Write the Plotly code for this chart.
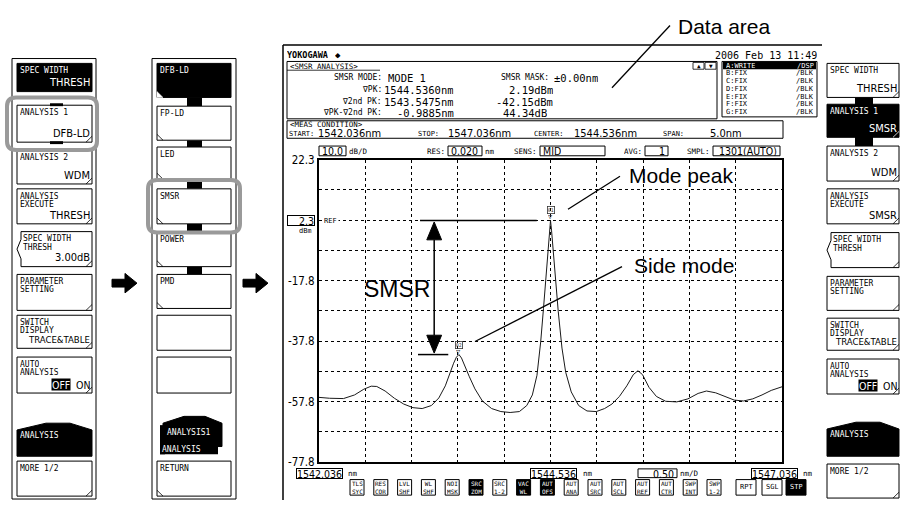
import plotly.graph_objects as go

# ---------------- data ----------------
wavelength_nm = [1542.036, 1542.15, 1542.30, 1542.42, 1542.52, 1542.60, 1542.66, 1542.75,
                 1542.85, 1542.95, 1543.05, 1543.15, 1543.25, 1543.33, 1543.40, 1543.45,
                 1543.49, 1543.52, 1543.5475, 1543.575, 1543.61, 1543.66, 1543.72, 1543.80,
                 1543.90, 1544.00, 1544.10, 1544.20, 1544.28, 1544.34, 1544.39, 1544.43,
                 1544.46, 1544.49, 1544.51, 1544.525, 1544.536, 1544.547, 1544.565, 1544.59,
                 1544.62, 1544.66, 1544.70, 1544.76, 1544.84, 1544.93, 1545.03, 1545.12,
                 1545.20, 1545.28, 1545.36, 1545.43, 1545.48, 1545.53, 1545.60, 1545.68,
                 1545.78, 1545.90, 1546.02, 1546.13, 1546.22, 1546.32, 1546.42, 1546.52,
                 1546.62, 1546.72, 1546.82, 1546.92, 1547.036]
level_dbm = [-56.3, -56.6, -56.7, -55.5, -53.6, -52.6, -52.7, -54.2,
             -56.6, -58.5, -59.7, -60.0, -59.0, -56.5, -52.5, -48.0,
             -45.0, -43.0, -42.15, -43.3, -46.0, -49.5, -53.5, -57.5,
             -60.0, -61.0, -61.3, -61.0, -59.0, -55.5, -49.0, -38.0,
             -27.0, -15.0, -6.0, -1.0, 2.19, -1.0, -8.0, -18.0,
             -28.0, -40.0, -48.0, -54.5, -59.0, -60.8, -61.0, -60.0,
             -58.5, -56.0, -52.5, -48.8, -47.5, -48.8, -53.0, -56.0,
             -57.6, -57.8, -56.8, -55.0, -54.2, -54.8, -56.0, -57.2,
             -57.5, -56.8, -55.5, -54.0, -52.8]

peak_wl, peak_dbm = 1544.5360, 2.19
side_wl, side_dbm = 1543.5475, -42.15
delta_wl, smsr_db = -0.9885, 44.34

x_start, x_center, x_stop = 1542.036, 1544.536, 1547.036
x_per_div = 0.50
y_top, db_per_div, ref_level = 22.3, 10.0, 2.3
y_tick_vals = [22.3, -17.7, -37.7, -57.7, -77.7]
y_tick_text = ["22.3", "-17.8", "-37.8", "-57.8", "-77.8"]

trace_rows = ["A:WRITE", "B:FIX", "C:FIX", "D:FIX", "E:FIX", "F:FIX", "G:FIX"]
trace_modes = ["/DSP", "/BLK", "/BLK", "/BLK", "/BLK", "/BLK", "/BLK"]

bottom_keys = ["TLS<br>SYC", "RES<br>COR", "LVL<br>SHF", "WL<br>SHF", "NOI<br>MSK", "SRC<br>ZOM",
               "SRC<br>1-2", "VAC<br>WL", "AUT<br>OFS", "AUT<br>ANA", "AUT<br>SRC", "AUT<br>SCL",
               "AUT<br>REF", "AUT<br>CTR", "SWP<br>INT", "SWP<br>1-2"]
bottom_active = [5, 7, 8]

# ---------------- helpers (pixel -> paper) ----------------
W, H = 901, 507
MONO = "DejaVu Sans Mono"
NARROW = "Liberation Sans Narrow, DejaVu Sans Condensed, DejaVu Sans Mono"
SANS = "Liberation Sans, Arial, sans-serif"


def px(x):
    return x / W


def py(y):
    return 1 - y / H


shapes, annots = [], []


def rect(x0, y0, x1, y1, fill="white", lc="black", lw=1):
    shapes.append(dict(type="rect", xref="paper", yref="paper", x0=px(x0), x1=px(x1),
                       y0=py(y1), y1=py(y0), fillcolor=fill, line=dict(color=lc, width=lw),
                       layer="above"))


def seg(x0, y0, x1, y1, lc="black", lw=1):
    shapes.append(dict(type="line", xref="paper", yref="paper", x0=px(x0), y0=py(y0),
                       x1=px(x1), y1=py(y1), line=dict(color=lc, width=lw), layer="above"))


def poly(pts, fill="black", lc="black", lw=1):
    d = "M " + " L ".join(f"{px(x):.5f},{py(y):.5f}" for x, y in pts) + " Z"
    shapes.append(dict(type="path", xref="paper", yref="paper", path=d, fillcolor=fill,
                       line=dict(color=lc, width=lw), layer="above"))


def rrect(x0, y0, x1, y1, r, lc="#9a9a9a", lw=4):
    def p(x, y):
        return f"{px(x):.5f},{py(y):.5f}"
    d = (f"M {p(x0 + r, y0)} L {p(x1 - r, y0)} Q {p(x1, y0)} {p(x1, y0 + r)} "
         f"L {p(x1, y1 - r)} Q {p(x1, y1)} {p(x1 - r, y1)} L {p(x0 + r, y1)} "
         f"Q {p(x0, y1)} {p(x0, y1 - r)} L {p(x0, y0 + r)} Q {p(x0, y0)} {p(x0 + r, y0)} Z")
    shapes.append(dict(type="path", xref="paper", yref="paper", path=d,
                       line=dict(color=lc, width=lw), layer="above"))


def txt(x, y, s, size=9, color="black", xa="left", fam=MONO, ya="middle", **kw):
    d = dict(xref="paper", yref="paper", x=px(x), y=py(y), text=s, showarrow=False,
             xanchor=xa, yanchor=ya, font=dict(size=size, color=color, family=fam), borderpad=0)
    d.update(kw)
    annots.append(d)


def boxed(x0, y0, x1, y1, s, size=10.5, xa="left", fam=NARROW):
    rect(x0, y0, x1, y1, fill="white", lw=1)
    if xa == "left":
        txt(x0 + 2, (y0 + y1) / 2, s, size=size, fam=fam, height=y1 - y0)
    else:
        txt(x1 - 2, (y0 + y1) / 2, s, size=size, fam=fam, xa="right", height=y1 - y0)


# ---------------- soft-key menus ----------------
def button(x0, x1, y0, y1, kind, lines, value, fold="right", offon=False, vsize=11):
    if kind == "black":
        rect(x0, y0, x1, y1, fill="black")
        col = "white"
    elif kind == "house":
        poly([(x0, y0 + 7), (x0 + 29, y0), (x0 + 53, y0), (x1, y0 + 7), (x1, y1), (x0, y1)])
        col = "white"
    elif kind == "notch":
        poly([(x0 + 4, y0), (x1, y0), (x1, y1), (x0 + 4, y1), (x0 + 4, y1 - 8),
              (x0, (y0 + y1) / 2), (x0 + 4, y0 + 8)], fill="white")
        col = "black"
    else:
        rect(x0, y0, x1, y1, fill="white")
        col = "black"
    if kind in ("white", "notch"):
        if fold == "right":
            seg(x1 - 6, y1, x1, y1 - 6, lw=0.8)
        elif fold == "left":
            seg(x0, y1 - 6, x0 + 6, y1, lw=0.8)
    if kind == "black" and fold == "left":
        poly([(x0, y1 - 6), (x0, y1), (x0 + 6, y1)], fill="white", lc="white", lw=0.5)
    ind = 5 if kind == "notch" else 2
    ybase = y0 + 12 if kind == "house" else y0 + 7
    for i, ln in enumerate(lines):
        txt(x0 + ind, ybase + 8.5 * i, ln, size=8, color=col, height=8)
    if value:
        txt(x1 - 1, y1 - 9, value, size=vsize, color=col, xa="right", fam=NARROW, height=11)
    if offon:
        txt(x1 - 21, y1 - 9, "OFF", size=10.5, color="white", xa="right", fam=NARROW,
            bgcolor="black", height=11)
        txt(x1 - 17, y1 - 9, "ON", size=10.5, color="black", xa="left", fam=NARROW, height=11)


# left panel
rect(12, 53, 96, 506, fill="white")
LX0, LX1 = 17, 92
button(LX0, LX1, 58, 87, "black", ["SPEC WIDTH"], "THRESH")
button(LX0, LX1, 101, 139, "white", ["ANALYSIS 1"], "DFB-LD")
rect(50, 99, 63, 102, fill="black", lw=0)
rect(50, 138, 63, 141, fill="black", lw=0)
button(LX0, LX1, 147, 182, "white", ["ANALYSIS 2"], "WDM")
button(LX0, LX1, 187, 223, "white", ["ANALYSIS", "EXECUTE"], "THRESH")
button(LX0, LX1, 231, 267, "notch", ["SPEC WIDTH", "THRESH"], "3.00dB")
button(LX0, LX1, 275, 312, "white", ["PARAMETER", "SETTING"], "")
button(LX0, LX1, 317, 351, "white", ["SWITCH", "DISPLAY"], "TRACE&TABLE", vsize=9.5)
button(LX0, LX1, 360, 397, "white", ["AUTO", "ANALYSIS"], "", offon=True)
button(LX0, LX1, 428, 462, "house", ["ANALYSIS"], "")
button(LX0, LX1, 467, 503, "white", ["MORE 1/2"], "")
rrect(7, 93, 97, 147, 9)

# middle panel
rect(152, 53, 236, 506, fill="white")
MX0, MX1 = 157, 231
for a, b in [(93, 102), (137, 144), (177, 187), (223, 232), (267, 275)]:
    rect(187, a, 202, b, fill="black", lw=0)
button(MX0, MX1, 58, 93, "black", ["DFB-LD"], "", fold="left")
button(MX0, MX1, 102, 137, "white", ["FP-LD"], "", fold="left")
button(MX0, MX1, 144, 177, "white", ["LED"], "", fold="left")
button(MX0, MX1, 187, 223, "white", ["SMSR"], "", fold="left")
button(MX0, MX1, 232, 267, "white", ["POWER"], "", fold="left")
button(MX0, MX1, 275, 310, "white", ["PMD"], "", fold="left")
button(MX0, MX1, 317, 353, "white", [], "", fold="none")
button(MX0, MX1, 360, 397, "white", [], "", fold="none")
poly([(163, 428), (184, 421), (205, 421), (222, 428), (222, 452), (163, 452)])
rect(160, 446, 218, 460, fill="black", lw=0)
rect(160, 430, 165, 460, fill="black", lw=0)
txt(166, 438, "ANALYSIS1", size=8, color="white")
txt(161, 455, "ANALYSIS", size=8, color="white")
button(MX0, MX1, 467, 503, "white", ["RETURN"], "", fold="left")
rrect(148, 178, 240, 232, 9)

# arrows between panels
for ax0 in (112, 243):
    poly([(ax0, 280), (ax0 + 13, 280), (ax0 + 13, 274), (ax0 + 25, 284),
          (ax0 + 13, 294), (ax0 + 13, 288), (ax0, 288)])

# right panel
RX0, RX1 = 827, 899
rect(855, 92, 873, 144, fill="black", lw=0)
button(RX0, RX1, 58, 93, "white", ["SPEC WIDTH"], "THRESH")
button(RX0, RX1, 100, 134, "black", ["ANALYSIS 1"], "SMSR")
seg(RX1 - 6, 134, RX1, 128, lc="white", lw=0.8)
button(RX0, RX1, 143, 179, "white", ["ANALYSIS 2"], "WDM")
button(RX0, RX1, 187, 223, "white", ["ANALYSIS", "EXECUTE"], "SMSR")
button(RX0, RX1, 232, 268, "notch", ["SPEC WIDTH", "THRESH"], "")
button(RX0, RX1, 277, 312, "white", ["PARAMETER", "SETTING"], "")
button(RX0, RX1, 320, 353, "white", ["SWITCH", "DISPLAY"], "TRACE&TABLE", vsize=9.5)
button(RX0, RX1, 362, 398, "white", ["AUTO", "ANALYSIS"], "", offon=True)
button(RX0, RX1, 427, 462, "house", ["ANALYSIS"], "")
button(RX0, RX1, 470, 505, "white", ["MORE 1/2"], "")

# ---------------- instrument screen ----------------
seg(283, 39, 822, 39, lw=1.5)
seg(283, 39, 283, 507, lw=1.5)
txt(286, 49, "<b>YOKOGAWA</b>", size=8.5, fam=MONO, height=10)
txt(334, 49, "◆", size=9, fam=MONO, height=10)
txt(818, 49, "2006 Feb 13 11:49", size=10, xa="right", height=10)

# SMSR analysis box
rect(287, 56, 717, 115, fill="white")
txt(289, 60.5, "&lt;SMSR ANALYSIS&gt;", size=7.5, height=8)
seg(287, 65, 380, 65, lw=0.8)
rect(693, 57, 704, 64, fill="white", lw=0.8)
rect(705, 57, 716, 64, fill="white", lw=0.8)
txt(698.5, 60.5, "▲", size=6, xa="center", height=7)
txt(710.5, 60.5, "▼", size=6, xa="center", height=7)
row_y = [73, 85, 97, 108]
txt(383, row_y[0], "SMSR MODE:", size=8, xa="right", height=9)
txt(387, row_y[0], "MODE 1", size=10.5, height=11)
txt(383, row_y[1], "∇PK:", size=8, xa="right", height=9)
txt(455, row_y[1], f"{peak_wl:.4f}nm", size=10.5, xa="right", height=11)
txt(383, row_y[2], "∇2nd PK:", size=8, xa="right", height=9)
txt(455, row_y[2], f"{side_wl:.4f}nm", size=10.5, xa="right", height=11)
txt(383, row_y[3], "∇PK-∇2nd PK:", size=8, xa="right", height=9)
txt(455, row_y[3], f"{delta_wl:.4f}nm", size=10.5, xa="right", height=11)
txt(550, row_y[0], "SMSR MASK:", size=8, xa="right", height=9)
txt(553, row_y[0], "±0.00nm", size=10.5, height=11)
txt(554, row_y[1], f"{peak_dbm:.2f}dBm", size=10.5, xa="right", height=11)
txt(554, row_y[2], f"{side_dbm:.2f}dBm", size=10.5, xa="right", height=11)
txt(548, row_y[3], f"{smsr_db:.2f}dB", size=10.5, xa="right", height=11)

# trace list box
rect(722, 56, 817, 113, fill="white")
rect(723, 56.5, 816, 64, fill="black", lw=0)
for i, (nm, md) in enumerate(zip(trace_rows, trace_modes)):
    c = "white" if i == 0 else "black"
    txt(725, 60.2 + 8 * i, nm, size=7, color=c, height=7.6)
    txt(815, 60.2 + 8 * i, md, size=7, color=c, xa="right", height=7.6)

# measurement condition box
rect(287, 117, 783, 135, fill="white")
txt(289, 120.5, "&lt;MEAS CONDITION&gt;", size=7.5, height=7)
txt(288, 130.5, "START:", size=7, height=8)
txt(317, 130.5, f"{x_start:.3f}nm", size=11, fam=NARROW, height=9)
txt(417, 130.5, "STOP:", size=7, height=8)
txt(447, 130.5, f"{x_stop:.3f}nm", size=11, fam=NARROW, height=9)
txt(533, 130.5, "CENTER:", size=7, height=8)
txt(573, 130.5, f"{x_center:.3f}nm", size=11, fam=NARROW, height=9)
txt(662, 130.5, "SPAN:", size=7, height=8)
txt(743, 130.5, f"{x_stop - x_start:.1f}nm", size=11, fam=NARROW, xa="right", height=9)

# settings row above the plot
boxed(319, 143, 346, 153, f"{db_per_div:.1f}")
txt(348, 148, "dB/D", size=7.5, height=8)
txt(446, 148, "RES:", size=7.5, xa="right", height=8)
boxed(448, 143, 482, 153, "0.020")
txt(484, 148, "nm", size=7.5, height=8)
txt(538, 148, "SENS:", size=7.5, xa="right", height=8)
boxed(540, 143, 605, 153, "MID")
txt(643, 148, "AVG:", size=7.5, xa="right", height=8)
boxed(645, 143, 668, 153, "1", xa="right")
txt(711, 148, "SMPL:", size=7.5, xa="right", height=8)
boxed(713, 143, 780, 153, "1301(AUTO)", xa="right")

# reference level marker at the left of the plot
annots.append(dict(xref="paper", yref="y", x=px(315), y=ref_level, text=f"{ref_level:.1f}",
                   showarrow=False, xanchor="right", yanchor="middle", align="right",
                   width=26, height=9, bordercolor="black", borderwidth=1, borderpad=0,
                   bgcolor="white", font=dict(size=10.5, family=NARROW, color="black")))
annots.append(dict(xref="paper", yref="y", x=px(314), y=ref_level, yshift=-10, text="dBm",
                   showarrow=False, xanchor="right", yanchor="middle", height=7,
                   font=dict(size=7, family=MONO, color="black")))
annots.append(dict(xref="x", yref="y", x=x_start, y=ref_level, xshift=3, text="REF",
                   showarrow=False, xanchor="left", yanchor="middle", height=7,
                   font=dict(size=7, family=MONO, color="black"), bgcolor="white"))

# wavelength labels under the plot
for val, shift in [(x_start, 0), (x_center, 3), (x_stop, -8)]:
    annots.append(dict(xref="x", yref="paper", x=val, xshift=shift, y=py(479.5),
                       text=f"{val:.3f}", showarrow=False, xanchor="center", yanchor="middle",
                       height=9, bordercolor="black", borderwidth=1, borderpad=0, bgcolor="white",
                       font=dict(size=10.5, family=NARROW, color="black")))
    annots.append(dict(xref="x", yref="paper", x=val, xshift=shift + 27, y=py(480),
                       text="nm", showarrow=False, xanchor="left", yanchor="middle", height=7,
                       font=dict(size=7.5, family=MONO, color="black")))
boxed(638, 475, 677, 484, f"{x_per_div:.2f}", xa="right")
txt(679, 480, "nm/D", size=7.5, height=7)

# bottom key row
for i, k in enumerate(bottom_keys):
    x0 = 350 + i * 23.8
    act = i in bottom_active
    rect(x0, 486, x0 + 14, 502, fill="black" if act else "white", lw=1)
    txt(x0 + 7, 494, k, size=6, color="white" if act else "black", xa="center", height=15)
for lab, x0, act in [("RPT", 736, False), ("SGL", 762, False), ("STP", 786, True)]:
    rect(x0, 486, x0 + 20, 502, fill="black" if act else "white", lw=1)
    txt(x0 + 10, 494, lab, size=7, color="white" if act else "black", xa="center", height=8)

# ---------------- call-outs ----------------
txt(677, 20, "Data area", size=21, fam=SANS)
seg(670, 19, 612, 83, lw=1.3)
txt(628, 173, "Mode peak", size=21, fam=SANS)
seg(620, 174, 568, 208, lw=1.3)
txt(633, 266, "Side mode", size=21, fam=SANS)
seg(622, 267, 475, 344, lw=1.3)
txt(363, 290, "SMSR", size=23, fam=SANS)

# SMSR double arrow in data coordinates
arrow_wl = 1543.28
head_db = 6.4
head_half = 0.08
data_shapes = [
    dict(type="line", xref="x", yref="y", x0=1543.127, x1=1544.387, y0=peak_dbm, y1=peak_dbm,
         line=dict(color="black", width=1.5)),
    dict(type="line", xref="x", yref="y", x0=1543.105, x1=1543.432, y0=side_dbm, y1=side_dbm,
         line=dict(color="black", width=1.5)),
    dict(type="line", xref="x", yref="y", x0=arrow_wl, x1=arrow_wl, y0=peak_dbm - head_db,
         y1=side_dbm + head_db, line=dict(color="black", width=1.5)),
    dict(type="path", xref="x", yref="y",
         path=f"M {arrow_wl},{peak_dbm - 0.5} L {arrow_wl - head_half},{peak_dbm - head_db} "
              f"L {arrow_wl + head_half},{peak_dbm - head_db} Z",
         fillcolor="black", line=dict(color="black", width=1)),
    dict(type="path", xref="x", yref="y",
         path=f"M {arrow_wl},{side_dbm + 0.5} L {arrow_wl - head_half},{side_dbm + head_db} "
              f"L {arrow_wl + head_half},{side_dbm + head_db} Z",
         fillcolor="black", line=dict(color="black", width=1)),
]

# peak markers
for wl, lv, tag in [(peak_wl, peak_dbm, "01"), (side_wl, side_dbm, "02")]:
    annots.append(dict(xref="x", yref="y", x=wl, y=lv, text="▽", showarrow=False,
                       xanchor="center", yanchor="bottom", yshift=-2, height=7,
                       font=dict(size=7, family=MONO, color="#333")))
    annots.append(dict(xref="x", yref="y", x=wl, y=lv, text=tag, showarrow=False,
                       xanchor="center", yanchor="bottom", yshift=6, height=6,
                       bordercolor="#333", borderwidth=0.8, borderpad=0,
                       font=dict(size=5, family=MONO, color="#333")))

# ---------------- figure ----------------
fig = go.Figure()
fig.add_trace(go.Scatter(x=wavelength_nm, y=level_dbm, mode="lines",
                         line=dict(color="#1a1a1a", width=1), hoverinfo="skip",
                         showlegend=False))

y_bottom = y_top - 10 * db_per_div
grid = dict(showgrid=True, gridcolor="black", griddash="dot", gridwidth=1)
fig.update_layout(
    width=W, height=H, autosize=False,
    margin=dict(l=0, r=0, t=0, b=0),
    paper_bgcolor="white", plot_bgcolor="white",
    xaxis=dict(domain=[px(319), px(782)], range=[x_start, x_stop], tick0=x_start,
               dtick=x_per_div, showticklabels=False, ticks="", zeroline=False,
               showline=True, linecolor="black", linewidth=2, mirror=True, **grid),
    yaxis=dict(domain=[py(468), py(157)], range=[y_bottom, y_top], tickmode="array",
               tickvals=y_tick_vals, ticktext=y_tick_text, ticks="", zeroline=False,
               tickfont=dict(size=11.5, family=NARROW, color="black"),
               showline=True, linecolor="black", linewidth=2, mirror=True,
               minor=dict(tick0=y_top, dtick=db_per_div, ticks="", **grid), **grid),
    shapes=shapes + data_shapes,
    annotations=annots,
    showlegend=False,
)
fig.write_html("out.html", config={"displayModeBar": False},
               post_script="document.body.style.margin='0';document.body.style.overflow='hidden';")
